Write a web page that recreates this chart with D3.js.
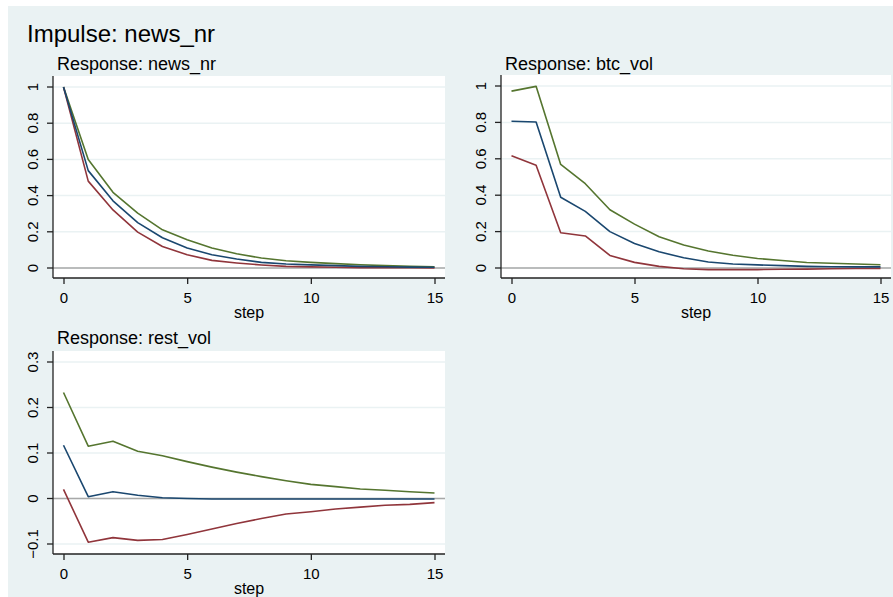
<!DOCTYPE html>
<html>
<head>
<meta charset="utf-8">
<script src="https://cdn.jsdelivr.net/npm/d3@7"></script>
<style>
  body { margin: 0; background: #fff; }
  svg text { font-family: "Liberation Sans", Arial, sans-serif; fill: #000; }
</style>
</head>
<body>
<svg width="893" height="597"></svg>
<script>
// impulse response steps
var steps = [0, 1, 2, 3, 4, 5, 6, 7, 8, 9, 10, 11, 12, 13, 14, 15];
var xTicks = [0, 5, 10, 15];

// Response: news_nr
var newsIrf = [1.0, 0.538, 0.371, 0.251, 0.167, 0.110, 0.073, 0.050, 0.031, 0.022, 0.017, 0.013, 0.009, 0.007, 0.005, 0.004];
var newsLo  = [1.0, 0.480, 0.321, 0.198, 0.119, 0.073, 0.042, 0.028, 0.017, 0.009, 0.006, 0.004, 0.002, 0.001, 0.001, 0.000];
var newsHi  = [1.0, 0.600, 0.418, 0.303, 0.211, 0.156, 0.110, 0.079, 0.055, 0.040, 0.031, 0.024, 0.018, 0.013, 0.010, 0.007];

// Response: btc_vol
var btcIrf = [0.806, 0.802, 0.389, 0.311, 0.200, 0.135, 0.089, 0.056, 0.033, 0.022, 0.017, 0.013, 0.009, 0.007, 0.006, 0.006];
var btcLo  = [0.617, 0.565, 0.194, 0.176, 0.069, 0.031, 0.009, -0.004, -0.009, -0.009, -0.009, -0.007, -0.006, -0.004, -0.003, -0.002];
var btcHi  = [0.972, 0.998, 0.569, 0.463, 0.320, 0.241, 0.172, 0.126, 0.093, 0.070, 0.052, 0.041, 0.030, 0.026, 0.022, 0.018];

// Response: rest_vol
var restIrf = [0.117, 0.004, 0.015, 0.007, 0.0015, 0.0, -0.001, -0.001, -0.001, -0.001, -0.001, -0.001, -0.001, -0.001, -0.001, -0.001];
var restLo  = [0.020, -0.096, -0.086, -0.092, -0.090, -0.079, -0.067, -0.055, -0.044, -0.034, -0.029, -0.023, -0.019, -0.015, -0.013, -0.009];
var restHi  = [0.233, 0.115, 0.126, 0.104, 0.094, 0.081, 0.069, 0.058, 0.048, 0.039, 0.031, 0.026, 0.021, 0.018, 0.015, 0.012];

var yTicksUnit = [0, 0.2, 0.4, 0.6, 0.8, 1];
var yTicksRest = [-0.1, 0, 0.1, 0.2, 0.3];

var bg = "#eaf2f3";
var colIrf = "#1a476f", colLo = "#90353b", colHi = "#55752f";

var svg = d3.select("svg");

svg.append("rect")
    .attr("x", 8).attr("y", 6)
    .attr("width", 885).attr("height", 591)
    .attr("fill", bg);

svg.append("text")
    .attr("x", 27).attr("y", 42)
    .style("font-size", "24px")
    .text("Impulse: news_nr");

var panels = [
    {title: "Response: news_nr", x0: 53, x1: 445, y0: 76, y1: 278, ticks: yTicksUnit,
        irf: newsIrf, lo: newsLo, hi: newsHi, titleY: 70},
    {title: "Response: btc_vol", x0: 501, x1: 891, y0: 75, y1: 278, ticks: yTicksUnit,
        irf: btcIrf, lo: btcLo, hi: btcHi, titleY: 70},
    {title: "Response: rest_vol", x0: 53, x1: 445, y0: 351, y1: 554, ticks: yTicksRest,
        irf: restIrf, lo: restLo, hi: restHi, titleY: 344}
];

var fmt = d3.format("");

function drawPanel(p) {
    var g = svg.append("g");

    var xScale = d3.scaleLinear()
        .domain([0, 15])
        .range([p.x0 + 10.5, p.x1 - 10.5]);

    var yScale = d3.scaleLinear()
        .domain(d3.extent(p.ticks))
        .range([p.y1 - 10, p.y0 + 11]);

    g.append("text")
        .attr("x", p.x0 + 4).attr("y", p.titleY)
        .style("font-size", "18px")
        .text(p.title);

    g.append("rect")
        .attr("x", p.x0).attr("y", p.y0)
        .attr("width", p.x1 - p.x0).attr("height", p.y1 - p.y0)
        .attr("fill", "#fff");

    // grid
    g.selectAll(".grid")
        .data(p.ticks)
        .enter()
        .append("line")
        .attr("class", "grid")
        .attr("x1", p.x0).attr("x2", p.x1)
        .attr("y1", function (d) { return yScale(d); })
        .attr("y2", function (d) { return yScale(d); })
        .attr("stroke", bg)
        .attr("stroke-width", 1.5);

    // zero line
    g.append("line")
        .attr("x1", p.x0).attr("x2", p.x1)
        .attr("y1", yScale(0)).attr("y2", yScale(0))
        .attr("stroke", "#a8a8a8")
        .attr("stroke-width", 1.6);

    var line = d3.line()
        .x(function (d, i) { return xScale(steps[i]); })
        .y(function (d) { return yScale(d); });

    [[p.hi, colHi], [p.lo, colLo], [p.irf, colIrf]].forEach(function (s) {
        g.append("path")
            .datum(s[0])
            .attr("d", line)
            .attr("fill", "none")
            .attr("stroke", s[1])
            .attr("stroke-width", 1.6)
            .attr("stroke-linejoin", "round");
    });

    // axes
    var yAxis = d3.axisLeft(yScale)
        .tickValues(p.ticks)
        .tickSize(6)
        .tickSizeOuter(0)
        .tickFormat(fmt);

    var ya = g.append("g")
        .attr("transform", "translate(" + p.x0 + ",0)")
        .call(yAxis);
    ya.select(".domain").attr("d", "M0," + p.y0 + "V" + p.y1);
    ya.selectAll("text")
        .style("font-size", "15px")
        .attr("transform", function (d) {
            return "translate(-20," + yScale(d) + ") rotate(-90)";
        })
        .attr("x", 0).attr("y", 0).attr("dy", "0.35em")
        .attr("text-anchor", "middle");
    ya.selectAll(".tick").attr("transform", null);
    ya.selectAll(".tick line")
        .attr("y1", function (d) { return yScale(d); })
        .attr("y2", function (d) { return yScale(d); });

    var xAxis = d3.axisBottom(xScale)
        .tickValues(xTicks)
        .tickSize(6)
        .tickSizeOuter(0)
        .tickPadding(8);

    var xa = g.append("g")
        .attr("transform", "translate(0," + p.y1 + ")")
        .call(xAxis);
    xa.select(".domain").attr("d", "M" + p.x0 + ",0H" + p.x1);
    xa.selectAll("text").style("font-size", "15px");

    g.selectAll(".domain, .tick line")
        .attr("stroke", "#222")
        .attr("stroke-width", 1.3);

    g.append("text")
        .attr("x", (p.x0 + p.x1) / 2)
        .attr("y", p.y1 + 40)
        .attr("text-anchor", "middle")
        .style("font-size", "16px")
        .text("step");
}

panels.forEach(drawPanel);
</script>
</body>
</html>
